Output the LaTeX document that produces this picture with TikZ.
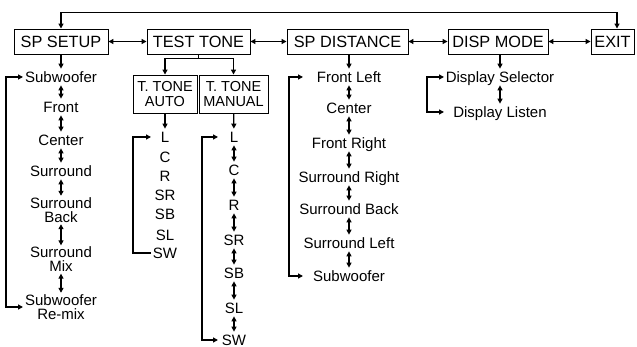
\documentclass[tikz,border=0pt]{standalone}
\usepackage{fontspec}
\setmainfont{Liberation Sans}
\usetikzlibrary{arrows.meta}
\begin{document}
\begin{tikzpicture}[x=1pt,y=-1pt,
  box/.style={draw, line width=0.9pt, minimum height=25pt, inner sep=0pt, font=\fontsize{16.3}{18}\selectfont},
  tbox/.style={draw, line width=0.9pt, minimum height=38pt, inner sep=0pt, align=center, font=\fontsize{14.5}{15}\selectfont},
  item/.style={inner sep=1.5pt, text height=12pt, text depth=1.3pt, font=\fontsize{15}{14}\selectfont},
  itemtwo/.style={inner sep=1.5pt, align=center, font=\fontsize{15}{14}\selectfont},
  con/.style={line width=1.2pt, -{Triangle[length=5pt,width=5pt]}},
  dcon/.style={line width=1.2pt, {Triangle[length=5pt,width=5pt]}-{Triangle[length=5pt,width=5pt]}}
]
\useasboundingbox (0,0) rectangle (637,347);
% top menu
\node[box, minimum width=94pt] (sps) at (61,41.5) {SP SETUP};
\node[box, minimum width=103pt] (tt) at (198.5,41.5) {TEST TONE};
\node[box, minimum width=121pt] (spd) at (347.5,41.5) {SP DISTANCE};
\node[box, minimum width=100pt] (dm) at (498,41.5) {DISP MODE};
\node[box, minimum width=43pt] (ex) at (612.5,41.5) {EXIT};
\draw[dcon] (sps.north) -- ++(0,-16) -| ([xshift=4.5pt]ex.north);
\draw[dcon] (sps) -- (tt);
\draw[dcon] (tt) -- (spd);
\draw[dcon] (spd) -- (dm);
\draw[dcon] (dm) -- (ex);
% SP SETUP column
\node[item] (a1) at (61,77) {Subwoofer};
\node[item] (a2) at (61,107) {Front};
\node[item] (a3) at (61,140) {Center};
\node[item] (a4) at (61,171) {Surround};
\node[itemtwo] (a5) at (61,210) {Surround\\Back};
\node[itemtwo] (a6) at (61,259.5) {Surround\\Mix};
\node[itemtwo] (a7) at (61,307) {Subwoofer\\Re-mix};
\draw[con] (sps) -- (a1);
\draw[dcon] (a1) -- (a2);
\draw[dcon] (a2) -- (a3);
\draw[dcon] (a3) -- (a4);
\draw[dcon] (a4) -- (a5);
\draw[dcon] (a5) -- (a6);
\draw[dcon] (a6) -- (a7);
\coordinate (tipa) at (23,0);
\draw[dcon] (a1.west -| tipa) -- ++(-17,0) |- (a7.west -| tipa);
% TEST TONE
\node[tbox, minimum width=64pt] (tauto) at (165,94) {T. TONE\\AUTO};
\node[tbox, minimum width=69pt] (tman) at (233.5,94) {T. TONE\\MANUAL};
\draw[con] (tt.south) -- ++(0,4) -| (tauto.north);
\draw[con] (tt.south) -- ++(0,4) -| (tman.north);
% AUTO column
\node[item] (b1) at (165,137) {L};
\node[item] (b2) at (165,157) {C};
\node[item] (b3) at (165,176) {R};
\node[item] (b4) at (165,195) {SR};
\node[item] (b5) at (165,214) {SB};
\node[item] (b6) at (165,235) {SL};
\node[item] (b7) at (165,253) {SW};
\draw[con] (tauto) -- (b1);
\coordinate (tipb) at (151,0);
\draw[con] (b7.west -| tipb) -- ++(-18,0) |- (b1.west -| tipb);
% MANUAL column
\node[item] (c1) at (234,137) {L};
\node[item] (c2) at (234,170) {C};
\node[item] (c3) at (234,205) {R};
\node[item] (c4) at (234,240) {SR};
\node[item] (c5) at (234,273) {SB};
\node[item] (c6) at (234,308) {SL};
\node[item] (c7) at (234,340) {SW};
\draw[con] (tman) -- (c1);
\draw[dcon] (c1) -- (c2);
\draw[dcon] (c2) -- (c3);
\draw[dcon] (c3) -- (c4);
\draw[dcon] (c4) -- (c5);
\draw[dcon] (c5) -- (c6);
\draw[dcon] (c6) -- (c7);
\coordinate (tipc) at (218,0);
\draw[dcon] (c1.west -| tipc) -- ++(-16,0) |- (c7.west -| tipc);
% SP DISTANCE column
\node[item] (d1) at (349,77) {Front Left};
\node[item] (d2) at (349,108) {Center};
\node[item] (d3) at (349,143) {Front Right};
\node[item] (d4) at (349,177) {Surround Right};
\node[item] (d5) at (349,209) {Surround Back};
\node[item] (d6) at (349,243) {Surround Left};
\node[item] (d7) at (349,276) {Subwoofer};
\draw[con] (d1.north |- spd.south) -- (d1);
\draw[dcon] (d1) -- (d2);
\draw[dcon] (d2) -- (d3);
\draw[dcon] (d3) -- (d4);
\draw[dcon] (d4) -- (d5);
\draw[dcon] (d5) -- (d6);
\draw[dcon] (d6) -- (d7);
\coordinate (tipd) at (303,0);
\draw[dcon] (d1.west -| tipd) -- ++(-14,0) |- (d7.west -| tipd);
% DISP MODE column
\node[item] (e1) at (500,77) {Display Selector};
\node[item] (e2) at (500,112) {Display Listen};
\draw[con] (e1.north |- dm.south) -- (e1);
\draw[dcon] (e1) -- (e2);
\coordinate (tipe) at (444,0);
\draw[dcon] (e1.west -| tipe) -- ++(-17,0) |- (e2.west -| tipe);
\end{tikzpicture}
\end{document}
